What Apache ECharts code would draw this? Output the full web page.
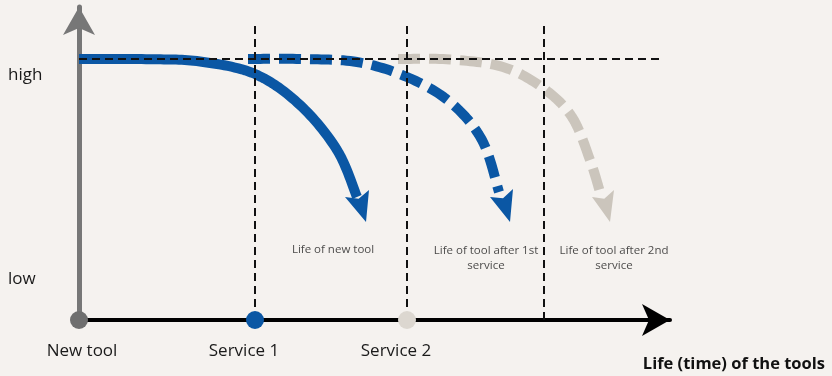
<!DOCTYPE html>
<html>
<head>
<meta charset="utf-8">
<script src="https://cdn.jsdelivr.net/npm/echarts@6/dist/echarts.min.js"></script>
<style>html,body{margin:0;padding:0;background:#f5f2ef;}#c{width:832px;height:376px;}</style>
</head>
<body>
<div id="c"></div>
<script>
// Data (x: time since new tool, y: tool performance), units
const categories = ['New tool', 'Service 1', 'Service 2'];
const categoryLabelX = [3, 165, 317];
const eventX = [0, 176, 328];
const eventColors = ['#6f6f6f', '#0b57a4', '#dcd7d0'];
const guideX = [176, 328, 465];
const highLevel = 261;
const yLabels = ['high', 'low'];
const yLabelValues = [245, 41];
const lifeNew = [[0, 261], [71, 260.8], [121, 258.5], [176, 246], [221, 215], [258, 170], [278, 123]];
const lifeAfter1 = [[169, 261], [221, 261], [278, 258], [328, 243], [371, 218], [403, 180], [420, 128]];
const lifeAfter2 = [[319, 261], [371, 260.5], [424, 253], [464, 232], [493, 203], [511, 160], [521, 128]];
const arrowNew = [[287, 98], [266, 123], [290, 130]];
const arrowAfter1 = [[431, 98], [411, 123], [434, 131]];
const arrowAfter2 = [[531, 98], [513, 123], [535, 130]];
const notes = ['Life of new tool', 'Life of tool after 1st\nservice', 'Life of tool after 2nd\nservice'];
const notePos = [[254, 70], [407, 62], [535, 62]];

const BLUE = '#0b57a4', BEIGE = '#cbc5bc';
const FONT = 'Open Sans';

// smooth curve through the data points (Catmull-Rom, evaluated in screen space)
function curveSeries(pts, color, dash, z) {
  return {
    type: 'custom', z: z, silent: true, clip: false,
    data: pts,
    renderItem: function (params, api) {
      if (params.dataIndex !== 0) return null;
      const p = pts.map(d => api.coord(d));
      const out = [p[0]];
      for (let i = 0; i < p.length - 1; i++) {
        const p0 = p[Math.max(i - 1, 0)], p1 = p[i], p2 = p[i + 1], p3 = p[Math.min(i + 2, p.length - 1)];
        for (let s = 1; s <= 16; s++) {
          const t = s / 16, t2 = t * t, t3 = t2 * t;
          const f = (a, b, c, d) => 0.5 * ((2 * b) + (-a + c) * t + (2 * a - 5 * b + 4 * c - d) * t2 + (-a + 3 * b - 3 * c + d) * t3);
          out.push([f(p0[0], p1[0], p2[0], p3[0]), f(p0[1], p1[1], p2[1], p3[1])]);
        }
      }
      return {
        type: 'polyline', shape: { points: out },
        style: { stroke: color, lineWidth: 10, fill: null, lineDash: dash, lineCap: 'butt', lineJoin: 'round' }
      };
    }
  };
}
function arrowSeries(pts, color) {
  return {
    type: 'custom', z: 4, silent: true,
    data: [pts.flat()],
    renderItem: function (params, api) {
      const t = api.coord([api.value(0), api.value(1)]);
      const l = api.coord([api.value(2), api.value(3)]);
      const r = api.coord([api.value(4), api.value(5)]);
      const m = [(l[0] + r[0]) / 2, (l[1] + r[1]) / 2];
      const n = [m[0] + (t[0] - m[0]) * 0.18, m[1] + (t[1] - m[1]) * 0.18];
      return { type: 'polygon', shape: { points: [t, l, n, r] }, style: { fill: color } };
    }
  };
}
function guide(data) {
  return {
    type: 'line', data: data, z: 5, clip: false, symbol: 'none', silent: true,
    lineStyle: { color: '#111', width: 2, type: [8, 5] }
  };
}

const series = [
  curveSeries(lifeNew, BLUE, null, 3),
  curveSeries(lifeAfter1, BLUE, [22, 9], 3),
  curveSeries(lifeAfter2, BEIGE, [22, 9], 2),
  arrowSeries(arrowNew, BLUE),
  arrowSeries(arrowAfter1, BLUE),
  arrowSeries(arrowAfter2, BEIGE),
  guide([[0, highLevel], [581, highLevel]])
].concat(guideX.map(x => guide([[x, 0], [x, 296]]))).concat([
  {
    type: 'scatter', z: 8, symbolSize: 18, silent: true,
    data: eventX.map((x, i) => ({ value: [x, 0], itemStyle: { color: eventColors[i], opacity: 1 } })),
    clip: false
  },
  {
    type: 'scatter', z: 8, symbolSize: 0, silent: true,
    data: notes.map((t, i) => ({ value: notePos[i], name: t })),
    label: { show: true, position: 'inside', formatter: p => p.name, color: '#1a1a1a', fontFamily: FONT, fontSize: 11.5, lineHeight: 15 }
  }
]);

const chart = echarts.init(document.getElementById('c'));
chart.setOption({
  backgroundColor: '#f5f2ef',
  animation: false,
  title: { text: 'Life (time) of the tools', right: 2, top: 351, textStyle: { fontFamily: FONT, fontSize: 16.5, fontWeight: 'bold', color: '#111' } },
  grid: { left: 79, right: 162, top: 7, bottom: 56 },
  xAxis: {
    type: 'value', min: 0, max: 591,
    splitLine: { show: false }, axisTick: { show: false },
    axisLine: { show: true, lineStyle: { color: '#000', width: 4 }, symbol: ['none', 'arrow'], symbolSize: [24, 28] },
    axisLabel: {
      customValues: categoryLabelX, margin: 23, color: '#1a1a1a', fontFamily: FONT, fontSize: 17,
      formatter: v => categories[categoryLabelX.indexOf(v)]
    }
  },
  yAxis: {
    type: 'value', min: 0, max: 313,
    splitLine: { show: false }, axisTick: { show: false },
    axisLine: { show: true, lineStyle: { color: '#777', width: 5 }, symbol: ['none', 'arrow'], symbolSize: [24, 28] },
    axisLabel: {
      customValues: yLabelValues, margin: 71, align: 'left', color: '#1a1a1a', fontFamily: FONT, fontSize: 17,
      formatter: v => yLabels[yLabelValues.indexOf(v)]
    }
  },
  series: series
});
</script>
</body>
</html>
